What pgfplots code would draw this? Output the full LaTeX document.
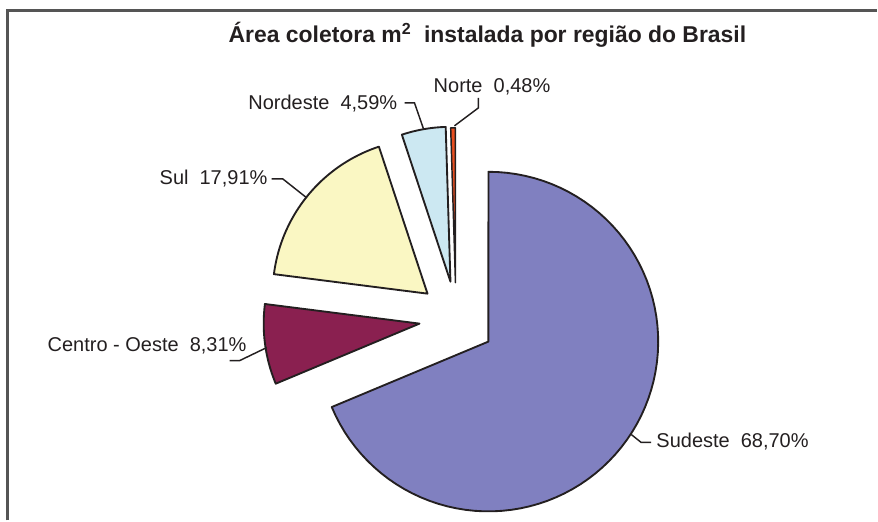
\documentclass[border=0pt]{standalone}
\usepackage{pgfplots}
\pgfplotsset{compat=1.18}
\usepackage{fontspec}
\setmainfont{Liberation Sans}
\definecolor{cSE}{HTML}{8080C0}
\definecolor{cCO}{HTML}{8A2050}
\definecolor{cS}{HTML}{FAF7C3}
\definecolor{cNE}{HTML}{CCE8F2}
\definecolor{cN}{HTML}{E84E1F}
\definecolor{txt}{HTML}{231F20}
% shares (%)
\def\pSE{68.70}
\def\pCO{8.31}
\def\pS{17.91}
\def\pNE{4.59}
\def\pN{0.48}
\pgfmathsetmacro{\aA}{90}
\pgfmathsetmacro{\aSE}{90-3.6*\pSE}
\pgfmathsetmacro{\aCO}{\aSE-3.6*\pCO}
\pgfmathsetmacro{\aS}{\aCO-3.6*\pS}
\pgfmathsetmacro{\aNE}{\aS-3.6*\pNE}
\pgfmathsetmacro{\aN}{\aNE-3.6*\pN}
\begin{document}
\begin{tikzpicture}
\begin{axis}[
  scale only axis, width=658.5pt, height=390.75pt,
  xmin=0, xmax=878, ymin=0, ymax=521, y dir=reverse,
  hide axis, clip=false,
  every axis plot/.append style={draw=txt, line width=1.4pt, line join=round},
]
\path (axis cs:0,0) rectangle (axis cs:878,521);
% frame
\draw[line width=1.6pt, draw={rgb,255:red,85;green,85;blue,85}] (axis cs:7.5,521) -- (axis cs:7.5,10.5) -- (axis cs:878,10.5);
% Sudeste
\addplot[fill=cSE, domain=\aSE:\aA, samples=80, variable=\t]
  ({489+170*cos(\t)}, {342-170*sin(\t)}) -- (axis cs:489,342) -- cycle;
% Centro-Oeste
\addplot[fill=cCO, domain=\aCO+360:\aSE+360, samples=30, variable=\t]
  ({420+156*cos(\t)}, {324-156*sin(\t)}) -- (axis cs:420,324) -- cycle;
% Sul
\addplot[fill=cS, domain=\aS+360:\aCO+360, samples=40, variable=\t]
  ({428+155*cos(\t)}, {294-155*sin(\t)}) -- (axis cs:428,294) -- cycle;
% Nordeste
\addplot[fill=cNE, domain=\aNE+360:\aS+360, samples=20, variable=\t]
  ({451+155*cos(\t)}, {282-155*sin(\t)}) -- (axis cs:451,282) -- cycle;
% Norte
\addplot[fill=cN, line width=1.1pt, domain=\aN+360:\aNE+360, samples=5, variable=\t]
  ({456+155*cos(\t)}, {283-155*sin(\t)}) -- (axis cs:456,283) -- cycle;
% leader lines
\draw[txt, line width=1.1pt] (axis cs:479,98) -- (axis cs:479,108) -- (axis cs:455,126);
\draw[txt, line width=1.1pt] (axis cs:405,103) -- (axis cs:415,103) -- (axis cs:424,129);
\draw[txt, line width=1.1pt] (axis cs:272,179) -- (axis cs:283,179) -- (axis cs:307,198);
\draw[txt, line width=1.1pt] (axis cs:230,361) -- (axis cs:240,361) -- (axis cs:267,348);
\draw[txt, line width=1.1pt] (axis cs:632,435) -- (axis cs:642,443) -- (axis cs:652,443);
% labels
\begin{scope}[every node/.style={inner sep=0pt, text=txt, font=\fontsize{15}{18}\selectfont}]
\node[anchor=base west] at (axis cs:434,93) {Norte\ \ 0,48\%};
\node[anchor=base east] at (axis cs:398,110) {Nordeste\ \ 4,59\%};
\node[anchor=base east] at (axis cs:268,185) {Sul\ \ 17,91\%};
\node[anchor=base east] at (axis cs:247,352) {Centro - Oeste\ \ 8,31\%};
\node[anchor=base west] at (axis cs:657,448) {Sudeste\ \ 68,70\%};
\end{scope}
% title
\node[anchor=base, inner sep=0pt, text=txt, font=\bfseries\fontsize{17.2}{21}\selectfont] at (axis cs:488,43) {Área coletora m\textsuperscript{2}\ \ instalada por região do Brasil};
\end{axis}
\end{tikzpicture}
\end{document}
